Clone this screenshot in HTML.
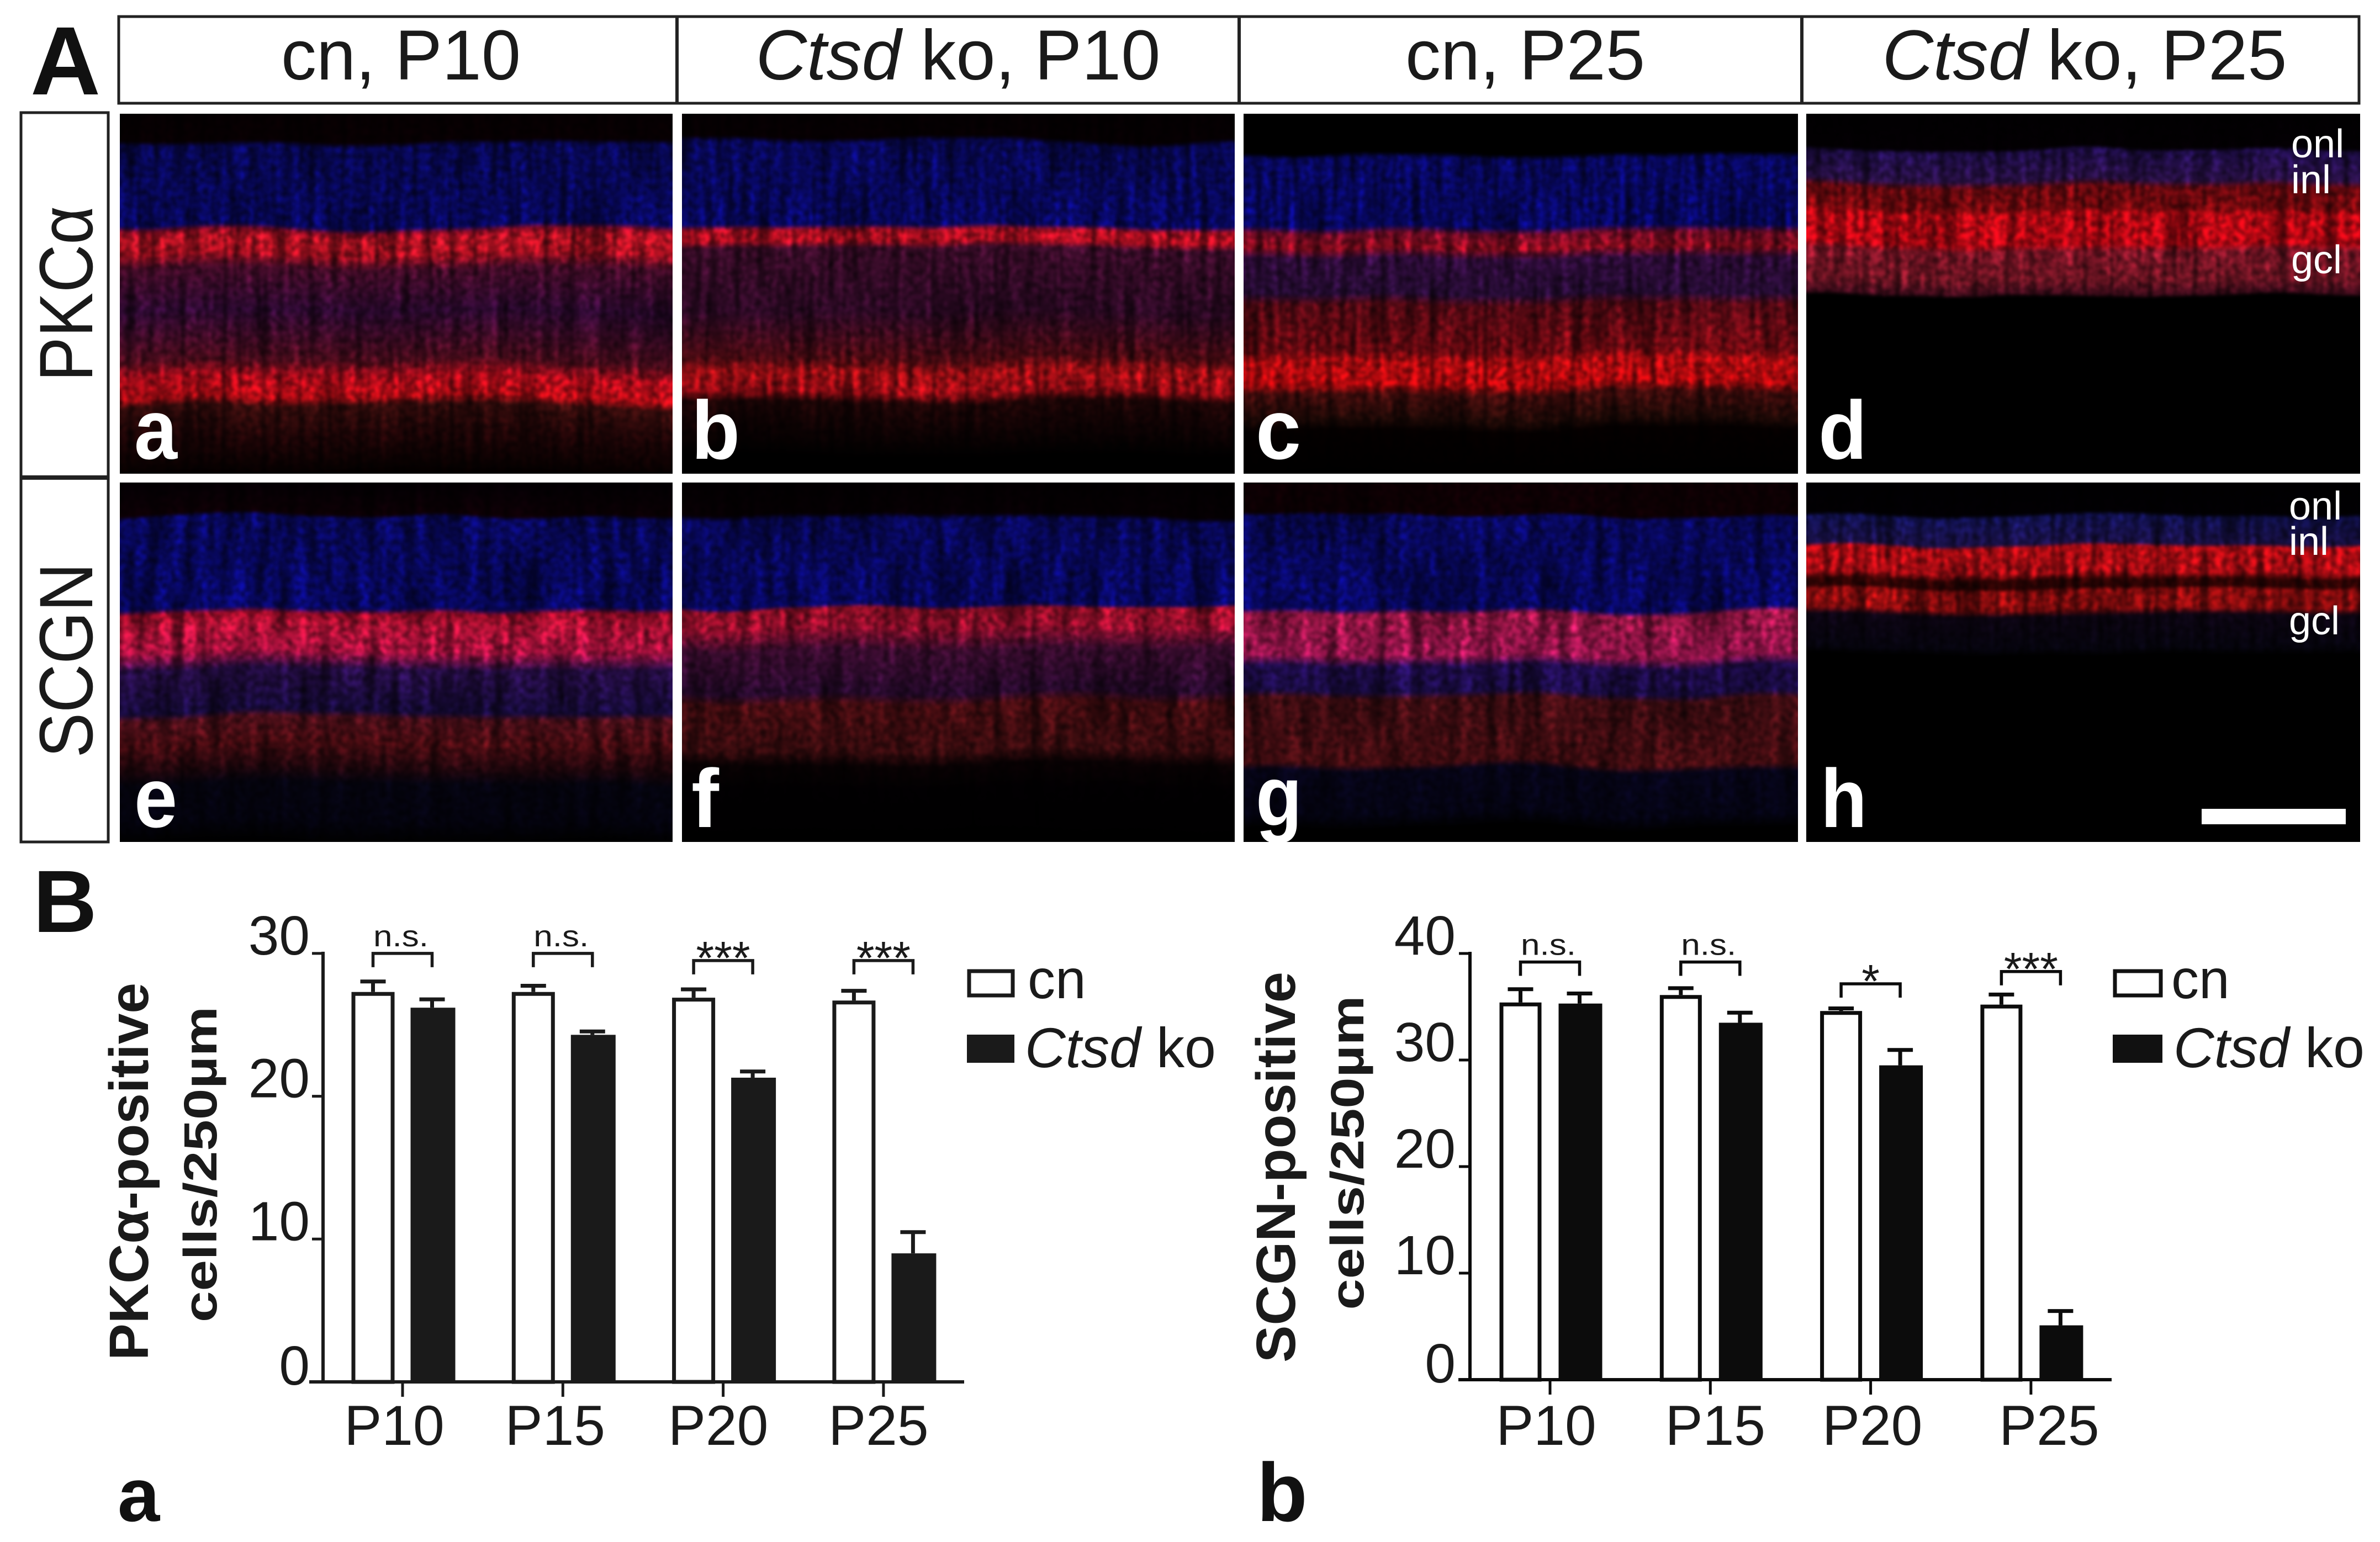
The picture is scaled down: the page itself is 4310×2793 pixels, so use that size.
<!DOCTYPE html>
<html lang="en">
<head>
<meta charset="utf-8">
<title>PKCα and SCGN retina figure</title>
<style>
html,body{margin:0;padding:0;background:#fff}
svg{display:block}
text{font-family:"Liberation Sans",Arial,sans-serif;fill:#1a1a1a}
.w{fill:#fff}
</style>
</head>
<body>
<svg id="fig" xmlns="http://www.w3.org/2000/svg" width="4310" height="2793" viewBox="0 0 4310 2793">
  <defs id="defs"></defs>
  <rect width="4310" height="2793" fill="#fff"/>

  <g id="panels"></g>

  <g>
    <text x="55" y="171" font-size="176" font-weight="700" fill="#111" style="fill:#111">A</text>
  </g>
  <g>
    <rect x="215" y="30" width="4057" height="157" fill="#fff" stroke="#222" stroke-width="5"/>
    <line x1="1226" y1="30" x2="1226" y2="187" stroke="#222" stroke-width="6"/>
    <line x1="2244" y1="30" x2="2244" y2="187" stroke="#222" stroke-width="6"/>
    <line x1="3263" y1="30" x2="3263" y2="187" stroke="#222" stroke-width="6"/>
    <text x="726" y="144" font-size="128" text-anchor="middle">cn, P10</text>
    <text x="1735" y="144" font-size="128" text-anchor="middle"><tspan font-style="italic">Ctsd</tspan> ko, P10</text>
    <text x="2762" y="144" font-size="128" text-anchor="middle">cn, P25</text>
    <text x="3775" y="144" font-size="128" text-anchor="middle"><tspan font-style="italic">Ctsd</tspan> ko, P25</text>
  </g>
  <g>
    <rect x="38" y="204" width="158" height="1321" fill="#fff" stroke="#222" stroke-width="5"/>
    <line x1="38" y1="865" x2="196" y2="865" stroke="#222" stroke-width="8"/>
    <text transform="translate(167,532) rotate(-90)" font-size="137" text-anchor="middle" textLength="318" lengthAdjust="spacingAndGlyphs">PKCα</text>
    <text transform="translate(167,1196) rotate(-90)" font-size="137" text-anchor="middle" textLength="353" lengthAdjust="spacingAndGlyphs">SCGN</text>
  </g>
  <g id="panel-letters">
    <text class="w" x="243" y="831" font-size="154" font-weight="700" textLength="78" lengthAdjust="spacingAndGlyphs">a</text>
    <text class="w" x="1252" y="831" font-size="150" font-weight="700" textLength="88" lengthAdjust="spacingAndGlyphs">b</text>
    <text class="w" x="2274" y="831" font-size="154" font-weight="700" textLength="82" lengthAdjust="spacingAndGlyphs">c</text>
    <text class="w" x="3293" y="831" font-size="150" font-weight="700" textLength="88" lengthAdjust="spacingAndGlyphs">d</text>
    <text class="w" x="243" y="1498" font-size="154" font-weight="700" textLength="78" lengthAdjust="spacingAndGlyphs">e</text>
    <text class="w" x="1252" y="1498" font-size="150" font-weight="700" textLength="50" lengthAdjust="spacingAndGlyphs">f</text>
    <text class="w" x="2274" y="1495" font-size="154" font-weight="700" textLength="84" lengthAdjust="spacingAndGlyphs">g</text>
    <text class="w" x="3297" y="1498" font-size="150" font-weight="700" textLength="84" lengthAdjust="spacingAndGlyphs">h</text>
    <text class="w" x="4149" y="285" font-size="72">onl</text>
    <text class="w" x="4149" y="350" font-size="72">inl</text>
    <text class="w" x="4149" y="495" font-size="72">gcl</text>
    <text class="w" x="4145" y="941" font-size="72">onl</text>
    <text class="w" x="4145" y="1005" font-size="72">inl</text>
    <text class="w" x="4145" y="1149" font-size="72">gcl</text>
    <rect x="3987" y="1465" width="261" height="28" fill="#fff"/>
  </g>

  <text x="60" y="1688" font-size="160" font-weight="700" style="fill:#111">B</text>
  <text x="213" y="2755" font-size="137" font-weight="700" style="fill:#111">a</text>
  <text x="2276" y="2755" font-size="150" font-weight="700" style="fill:#111">b</text>

  <g id="chartA">
    <text transform="translate(268,2122) rotate(-90)" font-size="100" font-weight="700" text-anchor="middle" textLength="684" lengthAdjust="spacingAndGlyphs">PKCα-positive</text>
    <text transform="translate(392,2109) rotate(-90)" font-size="84" font-weight="700" text-anchor="middle" textLength="572" lengthAdjust="spacingAndGlyphs">cells/250µm</text>
    <rect x="1755" y="1759" width="79" height="44" fill="#fff" stroke="#1a1a1a" stroke-width="7"/>
    <text x="1861" y="1808" font-size="100">cn</text>
    <rect x="1751" y="1874" width="86" height="51" fill="#1a1a1a"/>
    <text x="1856" y="1933" font-size="102"><tspan font-style="italic">Ctsd</tspan> ko</text>
  </g>
  <g id="chartB">
    <text transform="translate(2345,2114) rotate(-90)" font-size="100" font-weight="700" text-anchor="middle" textLength="708" lengthAdjust="spacingAndGlyphs">SCGN-positive</text>
    <text transform="translate(2469,2088) rotate(-90)" font-size="84" font-weight="700" text-anchor="middle" textLength="569" lengthAdjust="spacingAndGlyphs">cells/250µm</text>
    <rect x="3830" y="1759" width="83" height="44" fill="#fff" stroke="#111" stroke-width="7"/>
    <text x="3932" y="1808" font-size="100">cn</text>
    <rect x="3826" y="1874" width="90" height="51" fill="#111"/>
    <text x="3936" y="1933" font-size="102"><tspan font-style="italic">Ctsd</tspan> ko</text>
  </g>
</svg>

<script>
// ---------- chart data ----------
const categories = ['P10', 'P15', 'P20', 'P25'];

const pkcTicks = [0, 10, 20, 30];
const pkcCn = [27.3, 27.3, 26.9, 26.7];
const pkcKo = [26.2, 24.3, 21.3, 9.0];
const pkcCnErr = [0.85, 0.55, 0.7, 0.8];
const pkcKoErr = [0.7, 0.35, 0.55, 1.6];
const pkcBracket = [30.0, 30.0, 29.5, 29.5];
const pkcSig = ['n.s.', 'n.s.', '***', '***'];

const scgnTicks = [0, 10, 20, 30, 40];
const scgnCn = [35.4, 36.1, 34.6, 35.2];
const scgnKo = [35.3, 33.5, 29.5, 5.1];
const scgnCnErr = [1.4, 0.8, 0.4, 1.1];
const scgnKoErr = [1.1, 1.1, 1.6, 1.5];
const scgnBracket = [39.2, 39.2, 37.15, 38.3];
const scgnSig = ['n.s.', 'n.s.', '*', '***'];

// ---------- micrograph tone profiles (fraction down the panel, colour) ----------
const toneA = [[0,'#080002'],[.07,'#0a0003'],[.085,'#0a0a70'],[.31,'#0a0a80'],[.325,'#c01030'],[.345,'#ff1a30'],[.39,'#e8162c'],[.43,'#601038'],[.55,'#3a0c40'],[.69,'#681026'],[.735,'#f01024'],[.79,'#f8101c'],[.815,'#481010'],[.90,'#280608'],[1,'#060000']];
const toneB = [[0,'#060002'],[.07,'#080003'],[.085,'#0a0a74'],[.31,'#0a0a84'],[.325,'#e8142c'],[.355,'#f8142c'],[.375,'#501038'],[.55,'#3a0c30'],[.68,'#680e18'],[.715,'#e0141c'],[.77,'#d0101c'],[.80,'#280708'],[.88,'#120304'],[.95,'#000000'],[1,'#000000']];
const toneC = [[0,'#000000'],[.105,'#000000'],[.12,'#0a0a80'],[.31,'#0a0a88'],[.33,'#a01034'],[.37,'#c01028'],[.40,'#401050'],[.50,'#341048'],[.53,'#700c1a'],[.66,'#900c16'],[.69,'#ff1016'],[.75,'#ff0c12'],[.78,'#581010'],[.85,'#280c08'],[.88,'#060000'],[1,'#000000']];
const toneD = [[0,'#020002'],[.09,'#040004'],[.10,'#2a1264'],[.18,'#381660'],[.20,'#900c14'],[.26,'#a00c12'],[.275,'#ff0c1a'],[.36,'#ff0a1a'],[.38,'#a81c34'],[.46,'#981c30'],[.50,'#581026'],[.51,'#000000'],[1,'#000000']];
const toneE = [[0,'#040004'],[.09,'#100006'],[.10,'#0a0a78'],[.35,'#0a0a84'],[.365,'#d01034'],[.39,'#f01846'],[.47,'#f01858'],[.52,'#341260'],[.64,'#1e0e50'],[.66,'#681422'],[.73,'#641018'],[.80,'#280810'],[.84,'#060514'],[.94,'#050414'],[1,'#000000']];
const toneF = [[0,'#040002'],[.09,'#080004'],[.105,'#0a0a78'],[.34,'#0a0a84'],[.35,'#c41434'],[.40,'#d0143e'],[.46,'#501040'],[.58,'#300c38'],[.61,'#5c1016'],[.74,'#501014'],[.78,'#0c0204'],[.85,'#020002'],[1,'#000000']];
const toneG = [[0,'#120004'],[.085,'#120004'],[.095,'#0a0a78'],[.35,'#0a0a84'],[.365,'#c41c58'],[.48,'#d01c6a'],[.51,'#2a1068'],[.58,'#241060'],[.60,'#5c121a'],[.78,'#581016'],[.80,'#080620'],[.92,'#06051c'],[.96,'#000000'],[1,'#000000']];
const toneH = [[0,'#010002'],[.085,'#020004'],[.095,'#161668'],[.17,'#221660'],[.18,'#f8101a'],[.25,'#e8101a'],[.27,'#400505'],[.29,'#380404'],[.30,'#b81012'],[.35,'#b81012'],[.37,'#100618'],[.46,'#080614'],[.48,'#000000'],[1,'#000000']];

const SVG_NS = 'http://www.w3.org/2000/svg';
const fig = document.getElementById('fig');
const defs = document.getElementById('defs');

function make(tag, attrs, parent) {
  const e = document.createElementNS(SVG_NS, tag);
  for (const k in attrs) e.setAttribute(k, attrs[k]);
  if (parent) parent.appendChild(e);
  return e;
}

// ---------- micrographs ----------
const columnEdges = [[217,1218],[1235,2236],[2252,3256],[3271,4274]];
const rowEdges = [[206,858],[874,1525]];
const panelNames = ['a','b','c','d','e','f','g','h'];
const panelTones = [toneA,toneB,toneC,toneD,toneE,toneF,toneG,toneH];
const panelRoot = document.getElementById('panels');

function buildFilter(id, seed, streakX, warp) {
  const f = make('filter', {id: id, x: '0', y: '0', width: '1', height: '1', 'color-interpolation-filters': 'sRGB'}, defs);
  make('feTurbulence', {type: 'fractalNoise', baseFrequency: '0.0035 0.002', numOctaves: 2, seed: seed, result: 'warpN'}, f);
  make('feDisplacementMap', {in: 'SourceGraphic', in2: 'warpN', scale: warp, xChannelSelector: 'R', yChannelSelector: 'G', result: 'wavy'}, f);
  make('feTurbulence', {type: 'fractalNoise', baseFrequency: streakX + ' 0.006', numOctaves: 2, seed: seed + 11, result: 'streakN'}, f);
  make('feColorMatrix', {in: 'streakN', type: 'matrix', values: '1.8 0 0 0 -.4 1.8 0 0 0 -.4 1.8 0 0 0 -.4 0 0 0 0 1', result: 'streak'}, f);
  make('feComposite', {in: 'wavy', in2: 'streak', operator: 'arithmetic', k1: .8, k2: .42, k3: 0, k4: 0, result: 'a'}, f);
  make('feTurbulence', {type: 'fractalNoise', baseFrequency: '0.09', numOctaves: 2, seed: seed + 23, result: 'grainN'}, f);
  make('feColorMatrix', {in: 'grainN', type: 'matrix', values: '1.6 0 0 0 -.3 1.6 0 0 0 -.3 1.6 0 0 0 -.3 0 0 0 0 1', result: 'grain'}, f);
  make('feComposite', {in: 'a', in2: 'grain', operator: 'arithmetic', k1: .8, k2: .42, k3: 0, k4: 0, result: 'b'}, f);
  make('feGaussianBlur', {in: 'b', stdDeviation: 2.4}, f);
}

panelNames.forEach(function (name, i) {
  const col = columnEdges[i % 4];
  const row = rowEdges[Math.floor(i / 4)];
  const w = col[1] - col[0];
  const h = row[1] - row[0];
  const gradId = 'grad-' + name;
  const grad = make('linearGradient', {id: gradId, gradientUnits: 'userSpaceOnUse', x1: 0, y1: row[0], x2: 0, y2: row[1]}, defs);
  panelTones[i].forEach(function (s) {
    make('stop', {offset: s[0], 'stop-color': s[1]}, grad);
  });
  const clipId = 'clip-' + name;
  const clip = make('clipPath', {id: clipId}, defs);
  make('rect', {x: col[0], y: row[0], width: w, height: h}, clip);
  const fid = 'tex-' + name;
  buildFilter(fid, 3 + i * 7, i > 3 && i < 7 ? 0.045 : 0.07, 28);
  const g = make('g', {'clip-path': 'url(#' + clipId + ')'}, panelRoot);
  
  
  make('rect', {x: col[0], y: row[0], width: w, height: h, fill: '#000'}, g);
  const tissue = make('rect', {x: col[0] - 60, y: row[0] - 60, width: w + 120, height: h + 120, fill: 'url(#' + gradId + ')', filter: 'url(#' + fid + ')'}, g);
  
  
});

// ---------- bar charts ----------
function drawChart(root, o) {
  const yScale = function (v) { return o.y0 - v * o.yUnit; };
  const xScale = function (i) { return o.x0 + i * o.xStep; };
  const inkColor = o.ink;

  // y axis
  const yAxis = make('line', {x1: o.axisX, y1: yScale(o.ticks[o.ticks.length - 1]) - 3, x2: o.axisX, y2: o.y0 + 3, stroke: inkColor, 'stroke-width': 6}, root);
  
  

  o.ticks.forEach(function (t) {
    const mark = make('line', {x1: o.axisX - 20, y1: yScale(t), x2: o.axisX, y2: yScale(t), stroke: inkColor, 'stroke-width': 5}, root);
    
    
    const label = make('text', {x: o.axisX - o.tickPad, y: yScale(t) + (t === 0 ? 5 : 2), 'font-size': 100, 'text-anchor': 'end'}, root);
    label.textContent = String(t);
    
    
  });

  o.categories.forEach(function (cat, i) {
    const cx = xScale(i);
    const cnX = cx - o.barOffset;
    const koX = cx + o.barOffset;

    [[cnX, o.cn[i], o.cnErr[i], 'cn'], [koX, o.ko[i], o.koErr[i], 'ko']].forEach(function (b) {
      const errTop = yScale(b[1] + b[2]);
      const stem = make('line', {x1: b[0], y1: errTop, x2: b[0], y2: yScale(b[1]), stroke: inkColor, 'stroke-width': 7}, root);
      
      
      const cap = make('line', {x1: b[0] - 23, y1: errTop + 3, x2: b[0] + 23, y2: errTop + 3, stroke: inkColor, 'stroke-width': 7}, root);
      
      
    });

    const cnBar = make('rect', {x: cnX - o.barW / 2 + 3.5, y: yScale(o.cn[i]) + 3.5, width: o.barW - 7, height: o.y0 - yScale(o.cn[i]) - 3.5, fill: '#fff', stroke: inkColor, 'stroke-width': 7}, root);
    
    
    const koBar = make('rect', {x: koX - o.barW / 2, y: yScale(o.ko[i]), width: o.barW + 3, height: o.y0 - yScale(o.ko[i]), fill: inkColor}, root);
    
    

    const top = yScale(o.bracket[i]);
    const tipDrop = 25;
    const bracket = make('path', {d: 'M' + cnX + ' ' + (top + tipDrop) + 'V' + top + 'H' + koX + 'V' + (top + tipDrop), fill: 'none', stroke: inkColor, 'stroke-width': 5.5}, root);
    
    

    const sig = o.sig[i];
    const isStars = sig.charAt(0) === '*';
    const sigText = make('text', {x: (cnX + koX) / 2 + (isStars ? 0 : -3), y: isStars ? top + 24 : top - 13, 'font-size': isStars ? 84 : 54, 'text-anchor': 'middle'}, root);
    if (!isStars) { sigText.setAttribute('textLength', 100); sigText.setAttribute('lengthAdjust', 'spacingAndGlyphs'); }
    sigText.textContent = sig;
    
    

    const xTick = make('line', {x1: cx, y1: o.y0, x2: cx, y2: o.y0 + 27, stroke: inkColor, 'stroke-width': 5}, root);
    
    
    const xLabel = make('text', {x: cx + o.labelShift[i], y: 2617, 'font-size': 102, 'text-anchor': 'middle'}, root);
    xLabel.textContent = cat;
    
    
  });

  const xAxis = make('line', {x1: o.xAxisStart, y1: o.y0, x2: o.xAxisEnd, y2: o.y0, stroke: inkColor, 'stroke-width': 6}, root);
  
  
}

drawChart(document.getElementById('chartA'), {
  categories: categories, ticks: pkcTicks, cn: pkcCn, ko: pkcKo, cnErr: pkcCnErr, koErr: pkcKoErr,
  bracket: pkcBracket, sig: pkcSig,
  y0: 2503, yUnit: 25.87, x0: 729, xStep: 290.3, barOffset: 53.5, barW: 78,
  axisX: 585, tickPad: 24, xAxisStart: 560, xAxisEnd: 1746, ink: '#1a1a1a',
  labelShift: [-15, -14, -9, -9]
});
drawChart(document.getElementById('chartB'), {
  categories: categories, ticks: scgnTicks, cn: scgnCn, ko: scgnKo, cnErr: scgnCnErr, koErr: scgnKoErr,
  bracket: scgnBracket, sig: scgnSig,
  y0: 2499, yUnit: 19.3, x0: 2807, xStep: 290.3, barOffset: 53.5, barW: 76,
  axisX: 2662, tickPad: 26, xAxisStart: 2641, xAxisEnd: 3824, ink: '#0c0c0c',
  labelShift: [-7, 9, 3, 33]
});
</script>
</body>
</html>
